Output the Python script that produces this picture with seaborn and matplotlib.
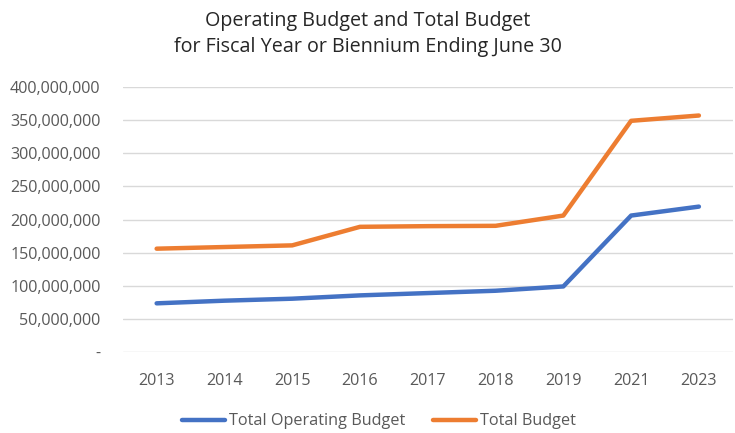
import matplotlib
matplotlib.use("Agg")
import matplotlib.pyplot as plt
import seaborn as sns
import pandas as pd
from matplotlib.ticker import FuncFormatter
from matplotlib.lines import Line2D

years = ["2013", "2014", "2015", "2016", "2017", "2018", "2019", "2021", "2023"]
operating = [73.5e6, 77.5e6, 80.5e6, 85.5e6, 89e6, 92.5e6, 99e6, 206e6, 219.5e6]
total = [156e6, 158.5e6, 161e6, 189e6, 190e6, 190.5e6, 206e6, 349e6, 357e6]
series_names = ["Total Operating Budget", "Total Budget"]
colors = ["#4472C4", "#ED7D31"]

df = pd.DataFrame({
    "Year": years * 2,
    "Value": operating + total,
    "Series": [series_names[0]] * len(years) + [series_names[1]] * len(years),
})

sns.set_theme(style="white")
plt.rcParams["font.family"] = ["Open Sans", "DejaVu Sans"]
text_color = "#595959"

fig = plt.figure(figsize=(7.35, 4.33), dpi=100)
ax = fig.add_axes([0.167, 0.187, 0.830, 0.612])

sns.lineplot(data=df, x="Year", y="Value", hue="Series", palette=colors,
             sort=False, linewidth=3.2, ax=ax, legend=False,
             solid_capstyle="round")

ax.set_xlim(-0.5, len(years) - 0.5)
ax.set_ylim(0, 400e6)
ax.set_yticks([i * 50e6 for i in range(9)])
ax.yaxis.set_major_formatter(FuncFormatter(lambda v, p: "-" if v == 0 else f"{v:,.0f}"))
ax.grid(axis="y", color="#D9D9D9", linewidth=1)
ax.set_axisbelow(True)
for s in ax.spines.values():
    s.set_visible(False)
ax.tick_params(axis="both", length=0, labelsize=11.6, labelcolor=text_color)
ax.tick_params(axis="y", pad=16)
ax.tick_params(axis="x", pad=15)
ax.set_xlabel("")
ax.set_ylabel("")

fig.suptitle("Operating Budget and Total Budget\nfor Fiscal Year or Biennium Ending June 30",
             y=0.975, fontsize=14.2, color="#262626", linespacing=1.4)

handles = [Line2D([0], [0], color=c, linewidth=3.2, solid_capstyle="round") for c in colors]
fig.legend(handles, series_names, loc="lower center", bbox_to_anchor=(0.515, -0.025),
           ncol=2, frameon=False, fontsize=11.7, handlelength=2.7, handletextpad=0.2,
           columnspacing=1.7, labelcolor=text_color)

fig.savefig("out.png", dpi=100)
